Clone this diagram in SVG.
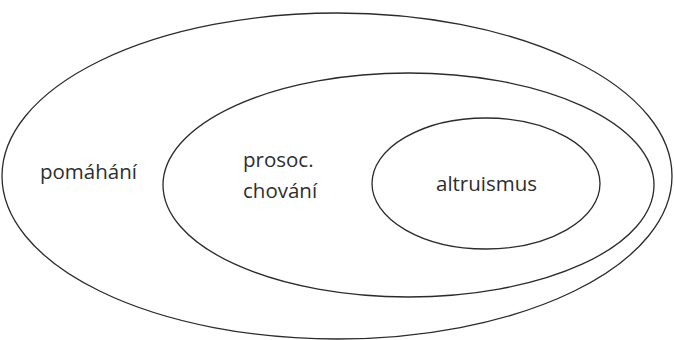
<svg xmlns="http://www.w3.org/2000/svg" width="674" height="340" viewBox="0 0 674 340">
<style>
.e{fill:none;stroke:#2b2b2b;stroke-width:1.3}
.t{font-family:"Open Sans","Liberation Sans",sans-serif;font-size:20.5px;fill:#2e2e2e}
</style>
<rect width="674" height="340" fill="#fff"/>
<g id="outer"><ellipse class="e" cx="337" cy="176" rx="335" ry="163"/><text class="t" x="40" y="179">pomáhání</text></g>
<g id="middle"><ellipse class="e" cx="408.5" cy="185" rx="245.5" ry="112"/><text class="t" x="243" y="167">prosoc.</text><text class="t" x="243" y="198">chování</text></g>
<g id="inner"><ellipse class="e" cx="486" cy="183.5" rx="114" ry="65.5"/><text class="t" x="436" y="191">altruismus</text></g>
</svg>
